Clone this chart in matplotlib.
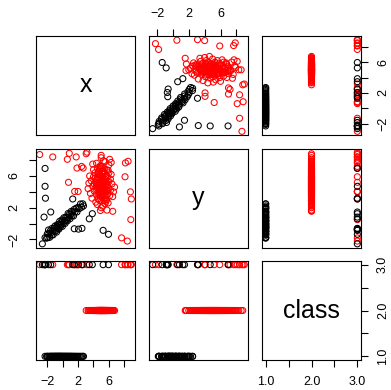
import numpy as np
import matplotlib
matplotlib.use("Agg")
import matplotlib.pyplot as plt

plt.rcParams['font.family'] = ['Liberation Sans', 'DejaVu Sans']

# ---- data ----
# class 1 (black)
x1 = [-2.3, -2.1, -2.0, -1.95, -1.8, -1.7, -1.6, -1.55, -1.45, -1.4,
      -1.3, -1.25, -1.15, -1.1, -1.0, -0.95, -0.9, -0.8, -0.75, -0.7,
      -0.6, -0.55, -0.5, -0.45, -0.4, -0.3, -0.25, -0.2, -0.1, -0.05,
      0.0, 0.1, 0.15, 0.25, 0.3, 0.4, 0.45, 0.55, 0.6, 0.7,
      0.8, 0.85, 0.95, 1.05, 1.1, 1.2, 1.3, 1.4, 1.5, 1.6,
      1.75, 1.85, 2.0, 2.15, 2.3, 2.45, 2.6, 2.7]
y1 = [-1.77, -1.84, -1.3, -1.75, -1.27, -1.73, -0.89, -1.2, -1.45, -0.61,
      -0.92, -1.42, -0.59, -0.94, -0.3, -0.96, -0.51, -1.07, -0.47, -0.13,
      -0.59, -0.1, -0.7, -0.26, 0.29, -0.42, 0.08, -0.13, 0.46, -0.35,
      0.35, 0.04, 0.74, 0.33, 0.02, 0.81, 0.41, 0.75, 0.34, 1.28,
      0.77, 1.17, 0.61, 1.15, 1.54, 0.98, 1.47, 0.96, 1.8, 1.49,
      1.93, 1.47, 2.05, 1.89, 2.47, 2.06, 2.49, 2.23]

# class 2 (red)
x2 = [5.1, 4.6, 5.5, 4.9, 5.3, 4.3, 5.8, 5.0, 4.7, 5.6,
      4.4, 5.2, 6.0, 4.8, 5.4, 3.9, 5.7, 4.5, 5.1, 6.2,
      4.2, 5.0, 5.9, 4.6, 5.3, 4.1, 5.5, 4.9, 6.4, 3.7,
      5.2, 4.8, 5.6, 4.4, 5.0, 6.1, 4.7, 5.4, 3.5, 5.8,
      4.3, 5.1, 6.6, 4.9, 5.3, 4.0, 5.7, 4.6, 5.2, 6.3,
      3.8, 5.0, 5.5, 4.5, 5.9, 4.8, 5.1, 4.2, 6.0, 5.4,
      3.3, 4.7, 5.6, 5.0, 4.4, 6.5, 5.2, 4.9, 3.6, 5.7,
      4.6, 5.3, 6.2, 4.1, 5.0, 5.5, 4.8, 3.05, 5.9, 4.5,
      5.1, 6.74, 4.3, 5.4, 4.9, 5.8, 3.9, 5.2, 4.7, 6.1,
      5.0, 4.4, 5.6, 3.4, 5.3, 4.8, 6.0, 4.6, 5.1, 5.5,
      4.7, 5.3, 4.9, 5.6, 4.5, 5.1, 5.8, 4.8, 5.4, 5.0,
      4.6, 5.2, 5.9, 4.4, 5.5, 4.9, 5.3, 4.7, 5.0, 5.6,
      4.0, 5.7, 4.9, 5.0, 5.75, 6.5, 4.5, 6.3]
y2 = [5.0, 4.4, 5.6, 6.1, 3.9, 5.2, 4.8, 3.4, 6.6, 6.0,
      3.6, 7.0, 5.3, 2.9, 4.5, 4.7, 3.0, 5.8, 6.3, 4.2,
      6.4, 4.0, 6.7, 3.1, 5.5, 4.1, 2.5, 7.3, 5.0, 5.4,
      2.2, 4.9, 4.3, 7.6, 5.7, 3.5, 4.5, 6.9, 6.0, 5.9,
      2.7, 3.8, 4.0, 5.4, 7.9, 6.8, 5.1, 3.7, 4.6, 6.2,
      3.2, 6.0, 3.3, 4.9, 2.6, 7.1, 5.6, 5.7, 7.4, 2.9,
      4.4, 5.2, 5.0, 8.3, 4.3, 3.4, 3.3, 3.9, 3.8, 4.2,
      6.5, 6.6, 5.6, 5.0, 2.0, 7.8, 6.2, 8.8, 4.5, 2.4,
      4.7, 4.6, 4.6, 5.3, 3.5, 3.7, 7.5, 5.9, 4.0, 8.1,
      5.3, 5.5, 2.8, 5.1, 4.1, 4.3, 6.4, 4.8, 2.9, 5.4,
      5.1, 4.9, 4.2, 4.7, 5.6, 5.9, 5.3, 3.6, 3.8, 4.5,
      6.2, 6.5, 4.1, 4.8, 6.3, 6.9, 5.2, 5.8, 7.2, 3.6,
      5.9, 6.8, 1.65, 8.6, 1.7, 1.55, 7.0, 7.7]

# class 3 (scattered, mixed colours)
x3 = [-3.0, -1.3, 0.6, 0.85, 1.75, 3.15, 1.85, 2.45, 2.65, 8.15,
      8.5, 8.1, 0.75, 1.55, 2.0, 8.8, 8.92, 8.85, 7.65, 8.4,
      -2.3, -2.3, -2.25, 1.3, -2.43, -1.56, 3.85, 3.45, 1.5, 2.05,
      2.5, 5.25, 5.95, -2.65, -1.85]
y3 = [8.7, 8.4, 8.1, 8.85, 8.4, 9.0, 7.0, 7.2, 7.0, 7.65,
      7.85, 5.9, 5.2, 4.05, 4.05, 4.0, 3.1, 0.5, -1.8, -2.2,
      6.95, 4.7, 3.2, 3.1, 0.82, 1.46, 1.25, 0.6, -0.65, -0.7,
      -0.6, -0.85, -1.35, -2.55, -0.8]
c3 = ['red'] * 20 + ['black'] * 15

var_names = ['x', 'y', 'class']
ticks_xy = [-2, 0, 2, 4, 6, 8]
labels_xy = ['\u22122', '', '2', '', '6', '']
ticks_cls = [1.0, 1.5, 2.0, 2.5, 3.0]
labels_cls = ['1.0', '', '2.0', '', '3.0']

# ---- assemble ----
X = np.array(x1 + x2 + x3)
Y = np.array(y1 + y2 + y3)
K = np.array([1] * len(x1) + [2] * len(x2) + [3] * len(x3), dtype=float)
cols = ['black'] * len(x1) + ['red'] * len(x2) + c3
V = [X, Y, K]
ticks = [(ticks_xy, labels_xy), (ticks_xy, labels_xy), (ticks_cls, labels_cls)]


def lims(v):
    lo, hi = v.min(), v.max()
    p = 0.04 * (hi - lo)
    return lo - p, hi + p


W, H = 391, 390
fig = plt.figure(figsize=(W / 100, H / 100), dpi=100)
lefts = [36, 149, 262]
tops = [36, 148.5, 261]
pw, ph = 99, 99

for i in range(3):
    for j in range(3):
        ax = fig.add_axes([lefts[j] / W, (H - tops[i] - ph) / H, pw / W, ph / H])
        ax.set_xlim(*lims(V[j]))
        ax.set_ylim(*lims(V[i]))
        for s in ax.spines.values():
            s.set_linewidth(0.8)
            s.set_color('black')
        ax.tick_params(direction='out', length=5, width=0.8, pad=6.5,
                       labelsize=9, colors='black')
        ax.set_xticks([])
        ax.set_yticks([])
        if i == j:
            ax.text(0.5, 0.5, var_names[i], transform=ax.transAxes,
                    ha='center', va='center', fontsize=18)
        else:
            ax.scatter(V[j], V[i], s=19, facecolors='none', edgecolors=cols,
                       linewidths=0.75)
        # axes like R pairs()
        if i == 0 and j % 2 == 1:
            ax.set_xticks(ticks[j][0])
            ax.set_xticklabels(ticks[j][1])
            ax.xaxis.tick_top()
        if i == 2 and j % 2 == 0:
            ax.set_xticks(ticks[j][0])
            ax.set_xticklabels(ticks[j][1])
            ax.xaxis.tick_bottom()
        if j == 0 and i % 2 == 1:
            ax.set_yticks(ticks[i][0])
            ax.set_yticklabels(ticks[i][1], rotation=90, va='center')
            ax.yaxis.tick_left()
        if j == 2 and i % 2 == 0:
            ax.set_yticks(ticks[i][0])
            ax.set_yticklabels(ticks[i][1], rotation=90, va='center')
            ax.yaxis.tick_right()

fig.savefig('out.png', dpi=100)
